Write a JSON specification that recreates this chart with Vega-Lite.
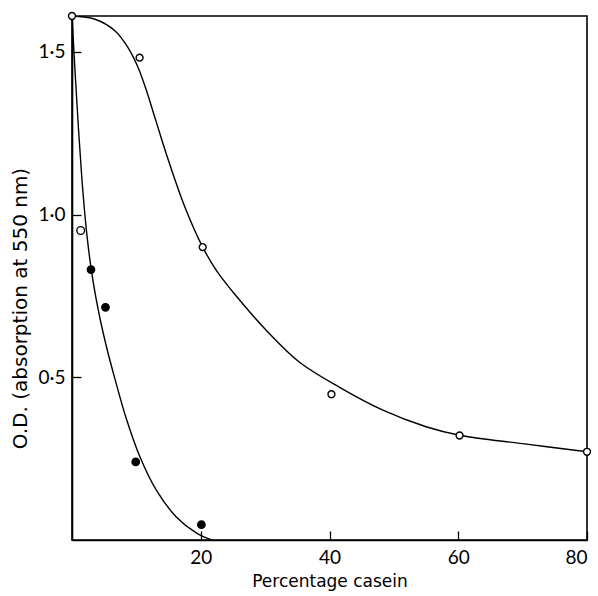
{
  "$schema": "https://vega.github.io/schema/vega-lite/v6.json",
  "width": 515,
  "height": 524,
  "autosize": "none",
  "padding": {"left": 72, "top": 16, "right": 11, "bottom": 56},
  "background": "white",
  "config": {
    "view": {"stroke": "black", "strokeWidth": 1.6},
    "axis": {
      "domainColor": "black", "domainWidth": 1.6,
      "tickColor": "black", "tickWidth": 1.3, "tickSize": -9,
      "grid": false,
      "labelFont": "Lato", "labelFontSize": 19, "labelColor": "black",
      "titleFont": "DejaVu Sans", "titleFontWeight": "normal", "titleColor": "black"
    }
  },
  "datasets": {
    "curves": [
      {"curve": "open", "x": 0, "y": 1.61},
      {"curve": "open", "x": 3.6, "y": 1.60},
      {"curve": "open", "x": 6.7, "y": 1.564},
      {"curve": "open", "x": 8.7, "y": 1.513},
      {"curve": "open", "x": 10.2, "y": 1.455},
      {"curve": "open", "x": 11.5, "y": 1.385},
      {"curve": "open", "x": 13.0, "y": 1.29},
      {"curve": "open", "x": 15.0, "y": 1.165},
      {"curve": "open", "x": 17.5, "y": 1.025},
      {"curve": "open", "x": 20.3, "y": 0.90},
      {"curve": "open", "x": 22.5, "y": 0.826},
      {"curve": "open", "x": 25, "y": 0.762},
      {"curve": "open", "x": 30.2, "y": 0.644},
      {"curve": "open", "x": 35.3, "y": 0.547},
      {"curve": "open", "x": 41.5, "y": 0.470},
      {"curve": "open", "x": 48.3, "y": 0.399},
      {"curve": "open", "x": 55, "y": 0.348},
      {"curve": "open", "x": 60.2, "y": 0.322},
      {"curve": "open", "x": 70, "y": 0.296},
      {"curve": "open", "x": 80, "y": 0.271},
      {"curve": "filled", "x": 0, "y": 1.61},
      {"curve": "filled", "x": 0.5, "y": 1.43},
      {"curve": "filled", "x": 1.0, "y": 1.265},
      {"curve": "filled", "x": 1.5, "y": 1.12},
      {"curve": "filled", "x": 2.0, "y": 1.0},
      {"curve": "filled", "x": 2.5, "y": 0.905},
      {"curve": "filled", "x": 3.0, "y": 0.83},
      {"curve": "filled", "x": 3.7, "y": 0.746},
      {"curve": "filled", "x": 4.4, "y": 0.676},
      {"curve": "filled", "x": 5.4, "y": 0.59},
      {"curve": "filled", "x": 6.67, "y": 0.495},
      {"curve": "filled", "x": 8.48, "y": 0.37},
      {"curve": "filled", "x": 10.5, "y": 0.258},
      {"curve": "filled", "x": 13.1, "y": 0.153},
      {"curve": "filled", "x": 16.2, "y": 0.071},
      {"curve": "filled", "x": 19.3, "y": 0.022},
      {"curve": "filled", "x": 21.7, "y": 0}
    ],
    "points": [
      {"sample": "open", "x": 0, "y": 1.61},
      {"sample": "open", "x": 10.5, "y": 1.482},
      {"sample": "open", "x": 20.3, "y": 0.90},
      {"sample": "open", "x": 40.3, "y": 0.448},
      {"sample": "open", "x": 60.2, "y": 0.321},
      {"sample": "open", "x": 80, "y": 0.271},
      {"sample": "small", "x": 1.35, "y": 0.951},
      {"sample": "filled", "x": 2.95, "y": 0.831},
      {"sample": "filled", "x": 5.2, "y": 0.715},
      {"sample": "filled", "x": 9.9, "y": 0.24},
      {"sample": "filled", "x": 20.1, "y": 0.047}
    ]
  },
  "encoding": {
    "x": {
      "field": "x", "type": "quantitative",
      "scale": {"domain": [0, 80], "nice": false, "zero": true},
      "axis": {"values": [20, 40, 60, 80], "title": "Percentage casein", "titleFontSize": 17,
        "labelPadding": 17, "titlePadding": 6}
    },
    "y": {
      "field": "y", "type": "quantitative",
      "scale": {"domain": [0, 1.61], "nice": false},
      "axis": {"values": [0.5, 1.0, 1.5], "title": "O.D. (absorption at 550 nm)", "titleFontSize": 20,
        "titleY": 292,
        "labelExpr": "replace(format(datum.value, '.1f'), '.', '·')", "labelPadding": 16, "titlePadding": 8}
    }
  },
  "layer": [
    {
      "data": {"name": "curves"},
      "mark": {"type": "line", "interpolate": "catmull-rom", "color": "black", "strokeWidth": 1.4, "clip": true},
      "encoding": {"detail": {"field": "curve", "type": "nominal"}}
    },
    {
      "data": {"name": "points"},
      "mark": {"type": "point", "shape": "circle", "filled": false, "stroke": "black", "strokeWidth": 1.4, "opacity": 1},
      "encoding": {
        "fill": {"field": "sample", "type": "nominal", "scale": {"domain": ["open", "filled", "small"], "range": ["white", "black", "white"]}, "legend": null},
        "size": {"field": "sample", "type": "nominal", "scale": {"domain": ["open", "filled", "small"], "range": [48, 60, 24]}, "legend": null}
      }
    }
  ]
}
